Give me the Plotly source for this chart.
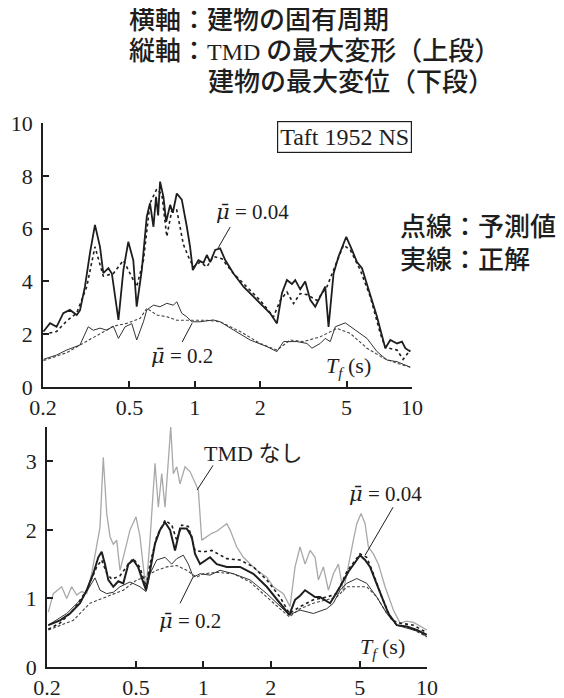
import plotly.graph_objects as go
import math

# ---------------- DATA ----------------
# Upper panel: TMD max deformation vs building period Tf (s)
top_T_sol04 = [0.201, 0.2155, 0.231, 0.248, 0.266, 0.286, 0.296, 0.312, 0.329, 0.347, 0.366, 0.379, 0.400, 0.415,
               0.445, 0.469, 0.494, 0.521, 0.540, 0.570, 0.601, 0.622, 0.645, 0.663, 0.678, 0.692, 0.717, 0.738,
               0.770, 0.792, 0.826, 0.871, 0.919, 0.951, 0.979, 1.039, 1.096, 1.136, 1.177, 1.241, 1.308, 1.38,
               1.507, 1.675, 1.863, 2.071, 2.224, 2.388, 2.518, 2.655, 2.80, 2.90, 3.057, 3.224, 3.40, 3.585,
               3.78, 3.986, 4.128, 4.354, 4.589, 4.981, 5.292, 5.58, 5.885, 6.311, 6.9, 7.534, 7.945, 8.531,
               8.995, 9.315, 9.82]
top_V_sol04 = [2.1, 2.42, 2.28, 2.8, 2.92, 2.73, 2.9, 3.8, 5.07, 6.14, 5.31, 4.31, 4.5, 4.3,
               2.54, 4.43, 5.5, 4.8, 3.04, 4.43, 6.45, 6.96, 6.07, 7.2, 6.5, 7.78, 7.2, 6.26,
               6.9, 6.6, 7.33, 7.1, 6.07, 5.31, 4.43, 4.8, 4.7, 5.0, 4.73, 5.19, 5.25, 4.81,
               4.3, 3.8, 3.42, 3.04, 2.79, 2.41, 3.55, 4.05, 3.9, 4.05, 3.7, 4.0, 3.3, 3.04,
               3.4, 3.8, 2.28, 4.3, 4.94, 5.69, 5.19, 4.73, 4.5, 3.67, 2.66, 1.47, 1.78, 1.65,
               1.72, 1.47, 1.34]

top_T_dot04 = [0.201, 0.231, 0.257, 0.286, 0.318, 0.347, 0.379, 0.4217, 0.469, 0.5126, 0.540, 0.580, 0.622,
               0.668, 0.705, 0.743, 0.784, 0.826, 0.886, 0.934, 0.985, 1.058, 1.136, 1.218, 1.332, 1.507,
               1.737, 2.0, 2.303, 2.473, 2.655, 2.848, 3.057, 3.283, 3.65, 4.059, 4.354, 4.841, 5.197,
               5.779, 6.425, 7.145, 7.534, 8.531, 9.10, 9.82]
top_V_dot04 = [2.0, 2.1, 2.5, 2.8, 3.8, 5.31, 4.2, 4.3, 4.8, 4.2, 3.8, 4.8, 6.96,
               7.5, 7.3, 5.7, 6.7, 6.7, 5.4, 4.94, 4.55, 4.73, 4.55, 4.94, 4.86, 4.3,
               3.8, 3.28, 2.66, 3.28, 3.6, 3.16, 3.54, 3.5, 3.28, 3.8, 4.43, 5.38, 5.19,
               4.43, 3.42, 2.03, 1.5, 1.4, 1.05, 1.4]

top_T_sol02 = [0.201, 0.231, 0.257, 0.296, 0.323, 0.341, 0.366, 0.393, 0.4217, 0.445, 0.4775, 0.5126, 0.540,
               0.580, 0.601, 0.645, 0.692, 0.743, 0.797, 0.826, 0.871, 0.919, 0.969, 1.058, 1.218, 1.308,
               1.507, 1.798, 2.147, 2.388, 2.561, 2.952, 3.283, 3.462, 3.78, 3.986, 4.204, 4.433, 4.929,
               5.481, 6.206, 6.9, 7.673, 8.531, 9.82]
top_V_sol02 = [1.05, 1.21, 1.4, 1.59, 2.28, 2.15, 2.23, 2.15, 2.3, 1.84, 2.28, 2.4, 1.78,
               2.47, 2.92, 3.1, 3.04, 3.17, 3.1, 3.23, 2.79, 2.66, 2.47, 2.47, 2.54, 2.47,
               2.16, 1.78, 1.53, 1.34, 1.72, 1.72, 1.65, 1.47, 1.65, 1.84, 1.72, 2.28, 2.43,
               2.16, 1.84, 1.34, 1.02, 0.96, 0.75]

top_T_dot02 = [0.201, 0.257, 0.296, 0.366, 0.4217, 0.486, 0.56, 0.601, 0.668, 0.743, 0.826, 0.951, 1.136,
               1.308, 1.618, 2.0, 2.388, 2.75, 3.157, 3.78, 4.512, 5.197, 6.206, 7.4, 8.531, 9.82]
top_V_dot02 = [1.0, 1.3, 1.59, 2.03, 2.3, 2.41, 2.6, 2.98, 2.73, 2.66, 2.53, 2.53, 2.53,
               2.47, 2.1, 1.65, 1.4, 1.78, 1.72, 1.9, 2.22, 2.03, 1.47, 1.09, 0.9, 0.75]

# Lower panel: building max displacement vs Tf (s)
bot_T_none = [0.2027, 0.2134, 0.2326, 0.245, 0.2579, 0.2715, 0.2859, 0.301, 0.3168, 0.3336, 0.3451, 0.357,
              0.3698, 0.3826, 0.3958, 0.4099, 0.4241, 0.4465, 0.4701, 0.5, 0.521, 0.5391, 0.5543, 0.5775,
              0.6081, 0.6292, 0.6516, 0.6741, 0.7148, 0.7343, 0.7605, 0.7866, 0.8283, 0.8719, 0.9182, 0.95,
              0.9838, 1.0356, 1.0904, 1.1482, 1.2088, 1.2727, 1.3165, 1.4106, 1.5098, 1.6178, 1.7332, 1.9213,
              2.0562, 2.2791, 2.4418, 2.5706, 2.7067, 2.8503, 3.0006, 3.1594, 3.2683, 3.4412, 3.6235, 3.8143,
              4.0163, 4.227, 4.451, 4.6867, 4.8536, 5.0729, 5.286, 5.4702, 5.7583, 6.0634, 6.4957, 7.0746,
              7.5805, 8.1247, 8.6975, 9.3197, 9.9816]
bot_V_none = [0.80, 1.07, 1.17, 1.0, 1.17, 1.05, 1.10, 1.07, 1.36, 1.80, 2.04, 3.06,
              2.24, 1.90, 1.79, 1.85, 1.41, 1.70, 2.0, 2.19, 1.9, 1.46, 1.12, 1.85,
              2.97, 2.33, 2.82, 2.33, 3.5, 2.82, 2.92, 2.67, 2.92, 2.85, 2.67, 2.58,
              1.85, 1.9, 1.95, 1.98, 2.04, 2.09, 2.0, 1.75, 1.6, 1.5, 1.41, 1.31,
              1.17, 1.07, 0.88, 1.46, 1.75, 1.5, 1.7, 1.6, 1.27, 1.46, 1.12, 1.36,
              1.5, 1.1, 1.5, 1.85, 2.09, 2.24, 2.09, 1.75, 1.65, 1.5, 1.17, 0.83,
              0.64, 0.67, 0.65, 0.59, 0.54]

bot_T_sol04 = [0.2027, 0.2286, 0.2534, 0.2809, 0.301, 0.3221, 0.3391, 0.3511, 0.3633, 0.376, 0.3958, 0.4168,
               0.4387, 0.462, 0.4864, 0.5121, 0.5304, 0.5543, 0.5775, 0.6081, 0.6403, 0.6741, 0.7097, 0.7473,
               0.7866, 0.8429, 0.8873, 0.9182, 0.9667, 1.0177, 1.0715, 1.1482, 1.2727, 1.4592, 1.6736, 1.9213,
               2.2029, 2.4239, 2.5706, 2.7067, 2.8503, 3.0006, 3.1594, 3.3247, 3.502, 3.6874, 4.0872, 4.451,
               4.8536, 5.0206, 5.286, 5.5656, 5.86, 6.2794, 6.7206, 7.3265, 8.1247, 9.0072, 9.9816]
bot_V_sol04 = [0.61, 0.68, 0.78, 0.93, 1.12, 1.36, 1.60, 1.68, 1.5, 1.27, 1.17, 1.25,
               1.22, 1.5, 1.56, 1.45, 1.3, 1.12, 1.4, 1.8, 2.0, 2.11, 2.0, 1.7,
               2.02, 2.02, 1.9, 1.65, 1.5, 1.55, 1.6, 1.5, 1.46, 1.46, 1.36, 1.17,
               0.93, 0.76, 0.98, 1.04, 1.12, 1.07, 1.02, 1.02, 0.98, 0.93, 1.17, 1.39,
               1.56, 1.63, 1.56, 1.46, 1.27, 1.02, 0.78, 0.61, 0.59, 0.54, 0.47]

bot_T_dot04 = [0.2027, 0.2286, 0.2621, 0.301, 0.3336, 0.3511, 0.3698, 0.3894, 0.4241, 0.462, 0.4864, 0.521,
               0.5543, 0.5775, 0.6188, 0.6741, 0.7223, 0.7605, 0.8007, 0.8569, 0.9182, 1.0, 1.0904, 1.2727,
               1.4592, 1.6736, 1.9213, 2.2029, 2.4239, 2.7067, 3.1046, 3.5639, 3.9503, 4.3786, 5.0206, 5.3792,
               5.7583, 6.2794, 6.9598, 7.5805, 8.6975, 9.9816]
bot_V_dot04 = [0.55, 0.64, 0.83, 1.12, 1.46, 1.56, 1.37, 1.28, 1.33, 1.5, 1.58, 1.45,
               1.17, 1.5, 1.9, 2.14, 2.07, 1.85, 2.07, 2.05, 1.7, 1.68, 1.7, 1.58,
               1.56, 1.46, 1.27, 1.02, 0.78, 0.88, 0.98, 1.02, 1.07, 1.39, 1.65, 1.6,
               1.36, 1.02, 0.68, 0.64, 0.61, 0.5]

bot_T_sol02 = [0.2027, 0.245, 0.2906, 0.3113, 0.3279, 0.3451, 0.3698, 0.3958, 0.4241, 0.4701, 0.521, 0.5543,
               0.5775, 0.6188, 0.6741, 0.7223, 0.7605, 0.814, 0.8569, 0.9022, 0.9667, 1.0715, 1.1878, 1.3621,
               1.6178, 1.9213, 2.2029, 2.4239, 2.7067, 3.1046, 3.5639, 3.8143, 4.0872, 4.3786, 4.8536, 5.3792,
               5.9636, 6.61, 7.3265, 8.1247, 9.3197, 9.9816]
bot_V_sol02 = [0.61, 0.78, 1.02, 1.17, 1.3, 1.12, 1.07, 1.09, 1.17, 1.24, 1.17, 1.1,
               1.36, 1.56, 1.6, 1.5, 1.58, 1.63, 1.5, 1.31, 1.36, 1.34, 1.41, 1.36,
               1.27, 1.07, 0.88, 0.76, 0.83, 0.78, 0.85, 0.93, 1.12, 1.22, 1.29, 1.22,
               1.02, 0.78, 0.61, 0.57, 0.51, 0.44]

bot_T_dot02 = [0.2027, 0.2621, 0.3113, 0.3698, 0.4387, 0.5037, 0.5391, 0.5775, 0.6188, 0.686, 0.7605, 0.8429,
               0.9344, 1.0, 1.1482, 1.3621, 1.6178, 1.9213, 2.2029, 2.4239, 2.7067, 3.1046, 3.5639, 3.9503,
               4.3786, 4.8536, 5.3792, 5.9636, 6.61, 7.3265, 8.403, 9.9816]
bot_V_dot02 = [0.54, 0.68, 0.93, 1.02, 1.12, 1.27, 1.3, 1.36, 1.41, 1.46, 1.48, 1.41,
               1.31, 1.36, 1.38, 1.36, 1.24, 1.02, 0.85, 0.73, 0.85, 0.93, 0.98, 1.02,
               1.17, 1.17, 1.17, 1.02, 0.78, 0.61, 0.57, 0.44]

x_tickvals = [0.2, 0.5, 1, 2, 5, 10]
x_ticktext = ["0.2", "0.5", "1", "2", "5", "10"]
top_y_ticks = [0, 2, 4, 6, 8, 10]
bot_y_ticks = [0, 1, 2, 3]

# ---------------- FIGURE ----------------
W, H = 564, 698
OFF = 8  # page body margin of the browser
INK = "#1e1e1e"
SERIF = "Liberation Serif"
CJK = "Noto Sans CJK JP"

fig = go.Figure()

def add(x, y, xa, ya, color, width, dash="solid"):
    fig.add_trace(go.Scatter(x=x, y=y, mode="lines", xaxis=xa, yaxis=ya,
                             line=dict(color=color, width=width, dash=dash),
                             hoverinfo="skip", showlegend=False))

# upper panel
add(top_T_dot02, top_V_dot02, "x", "y", "#444444", 1.1, "3px,2px")
add(top_T_sol02, top_V_sol02, "x", "y", "#333333", 1.0)
add(top_T_dot04, top_V_dot04, "x", "y", INK, 1.6, "dot")
add(top_T_sol04, top_V_sol04, "x", "y", INK, 1.8)

# lower panel
add(bot_T_none, bot_V_none, "x2", "y2", "#a8a8a8", 1.3)
add(bot_T_dot02, bot_V_dot02, "x2", "y2", "#444444", 1.1, "3px,2px")
add(bot_T_sol02, bot_V_sol02, "x2", "y2", "#333333", 1.0)
add(bot_T_dot04, bot_V_dot04, "x2", "y2", INK, 1.6, "dot")
add(bot_T_sol04, bot_V_sol04, "x2", "y2", INK, 2.0)

def px2x(px):
    return (px - OFF) / W

def py2y(py):
    return 1 - (py - OFF) / H

axis_common = dict(showline=True, linecolor=INK, linewidth=1.5, ticks="inside", ticklen=6,
                   tickwidth=1.5, tickcolor=INK, showgrid=False, zeroline=False, automargin=False,
                   tickfont=dict(family=SERIF, size=22, color=INK))

fig.update_layout(
    width=W, height=H, margin=dict(l=0, r=0, t=0, b=0, autoexpand=False),
    paper_bgcolor="white", plot_bgcolor="rgba(0,0,0,0)",
    xaxis=dict(type="log", range=[math.log10(0.2), 1], domain=[px2x(43), px2x(412)], anchor="y",
               tickvals=x_tickvals, ticktext=x_ticktext, **axis_common),
    yaxis=dict(range=[0, 10], domain=[py2y(387), py2y(123)], anchor="x",
               tickvals=top_y_ticks, ticklabelstandoff=4, **axis_common),
    xaxis2=dict(type="log", range=[math.log10(0.2), 1], domain=[px2x(47), px2x(427)], anchor="y2",
                tickvals=x_tickvals, ticktext=x_ticktext, **axis_common),
    yaxis2=dict(range=[0, 3.5], domain=[py2y(667), py2y(427)], anchor="x2",
                tickvals=bot_y_ticks, ticklabelstandoff=4, **axis_common),
)

# leader lines
leaders = [
    ("x", "y", 1.455, 6.06, 1.281, 5.27),
    ("x", "y", 0.874, 1.70, 0.972, 2.42),
    ("x2", "y2", 1.105, 2.94, 0.937, 2.58),
    ("x2", "y2", 7.05, 2.33, 5.287, 1.63),
    ("x2", "y2", 0.787, 0.93, 0.899, 1.31),
]
for xr, yr, x0, y0, x1, y1 in leaders:
    fig.add_shape(type="line", xref=xr, yref=yr, x0=x0, y0=y0, x1=x1, y1=y1,
                  line=dict(color=INK, width=1))

def note(text, px, py, size, family, xanchor="left", weight="normal", **kw):
    fig.add_annotation(text=text, x=px2x(px), y=py2y(py), xref="paper", yref="paper",
                       xanchor=xanchor, yanchor="middle", showarrow=False,
                       font=dict(family=family, size=size, color=INK, weight=weight), **kw)

tmd = "<span style='font-family:Liberation Serif;font-weight:normal;font-size:24px'>TMD</span>"
note("横軸：建物の固有周期", 127, 18, 26, CJK, weight=500)
note("縦軸：" + tmd + " の最大変形（上段）", 127, 49, 26, CJK, weight=500)
note("建物の最大変位（下段）", 206, 79, 26, CJK, weight=500)
note("点線：予測値", 398, 224, 26, CJK, weight=500)
note("実線：正解", 398, 258, 26, CJK, weight=500)

note("Taft 1952 NS", 344, 137, 24, SERIF, xanchor="center",
     bordercolor=INK, borderwidth=1.2, borderpad=2)

mu = "<i><span style='font-family:DejaVu Serif'>μ̄</span></i>"
note(mu + " = 0.04", 214, 212, 21, SERIF)
note(mu + " = 0.2", 149, 356, 21, SERIF)
note("<i>T</i><sub><i>f</i></sub> (s)", 324, 367, 22, SERIF)

note("TMD <span style='font-family:Noto Sans CJK JP'>なし</span>", 202, 451, 22, SERIF)
note(mu + " = 0.04", 347, 494, 21, SERIF)
note(mu + " = 0.2", 157, 621, 21, SERIF)
note("<i>T</i><sub><i>f</i></sub> (s)", 358, 648, 22, SERIF)

fig.write_html("out.html")
